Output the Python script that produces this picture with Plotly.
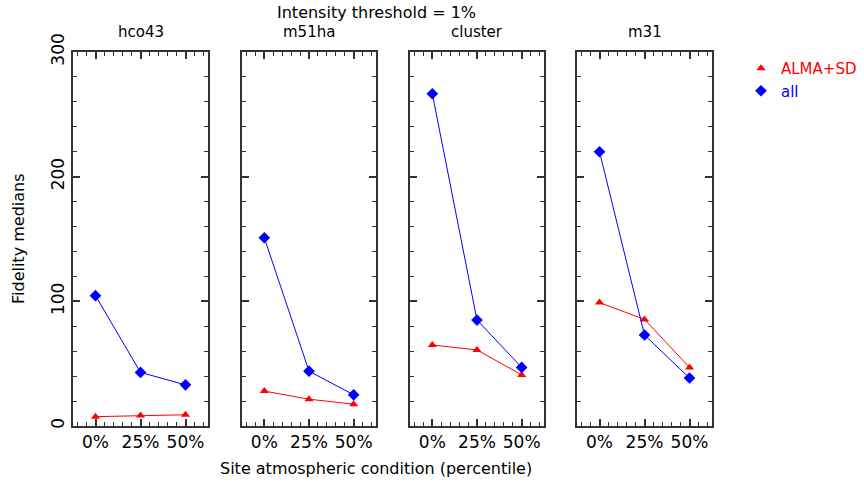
import plotly.graph_objects as go

panels = ["hco43", "m51ha", "cluster", "m31"]
conditions = [0, 25, 50]
tick_labels = ["0%", "25%", "50%"]
alma_sd = [
    [7.5, 8.5, 9.0],
    [28.0, 21.5, 17.5],
    [65.0, 61.0, 41.0],
    [99.0, 85.5, 47.0],
]
all_vals = [
    [104.5, 43.0, 33.0],
    [151.0, 44.0, 25.0],
    [266.5, 85.0, 47.0],
    [220.0, 73.0, 38.5],
]

W, H = 864, 489
PL, PR, PT, PB = 73, 712, 52, 426   # plot area in page pixels
L, T = PL, PT
R = W - PR
B = H - PB
pw = PR - PL
ph = PB - PT
px_bounds = [(73, 208), (242, 376), (410, 544), (577, 712)]
FONT = "DejaVu Sans"
AX = "#333333"
FS = 16


def px(xp):
    return (xp - PL) / pw


def py(yp):
    return (PB - yp) / ph


fig = go.Figure()
layout = dict(
    width=W, height=H,
    margin=dict(l=L, r=R, t=T, b=B, autoexpand=False),
    plot_bgcolor="white", paper_bgcolor="white",
    font=dict(family=FONT, size=FS, color="black"),
    showlegend=True,
    legend=dict(x=px(741), y=py(52), xanchor="left", yanchor="top",
                bgcolor="rgba(0,0,0,0)", font=dict(size=15), tracegroupgap=0, itemwidth=30),
)
annotations = []
for i, name in enumerate(panels):
    sfx = "" if i == 0 else str(i + 1)
    x0, x1 = px_bounds[i]
    dom = [px(x0), px(x1)]
    layout["xaxis" + sfx] = dict(
        domain=dom, range=[-12.5, 62.5], tickmode="array", tickvals=conditions,
        ticktext=tick_labels, ticks="inside", ticklen=7, tickwidth=1.5, tickcolor=AX,
        minor=dict(dtick=5, ticks="inside", ticklen=4, tickwidth=1, tickcolor=AX),
        showline=True, linecolor=AX, linewidth=2, mirror="ticks", showgrid=False,
        zeroline=False, tickfont=dict(size=FS + 1), anchor="y" + sfx, fixedrange=True,
        automargin=False,
    )
    layout["yaxis" + sfx] = dict(
        domain=[0, 1], range=[0, 300], tickmode="linear", tick0=0, dtick=100,
        ticks="inside", ticklen=7, tickwidth=1.5, tickcolor=AX,
        minor=dict(dtick=20, ticks="inside", ticklen=4, tickwidth=1, tickcolor=AX),
        showline=True, linecolor=AX, linewidth=2, mirror="ticks", showgrid=False,
        zeroline=False, showticklabels=(i == 0), tickangle=-90, tickfont=dict(size=FS + 1),
        anchor="x" + sfx, fixedrange=True, automargin=False,
    )
    fig.add_trace(go.Scatter(
        x=conditions, y=alma_sd[i], mode="lines+markers", xaxis="x" + sfx, yaxis="y" + sfx,
        line=dict(color="red", width=1), marker=dict(symbol="triangle-up", size=8, color="red"),
        showlegend=False, name="ALMA+SD"))
    fig.add_trace(go.Scatter(
        x=conditions, y=all_vals[i], mode="lines+markers", xaxis="x" + sfx, yaxis="y" + sfx,
        line=dict(color="blue", width=1), marker=dict(symbol="diamond", size=9, color="blue"),
        showlegend=False, name="all"))
    annotations.append(dict(text=name, x=(dom[0] + dom[1]) / 2, y=py(32),
                            xref="paper", yref="paper", showarrow=False,
                            xanchor="center", yanchor="middle", font=dict(size=15)))

fig.add_trace(go.Scatter(x=[None], y=[None], mode="markers",
                         marker=dict(symbol="triangle-up", size=8, color="red"),
                         name="<span style='color:red'>ALMA+SD</span>"))
fig.add_trace(go.Scatter(x=[None], y=[None], mode="markers",
                         marker=dict(symbol="diamond", size=9, color="blue"),
                         name="<span style='color:blue'>all</span>"))

annotations.append(dict(text="Intensity threshold = 1%", x=px(376), y=py(12.5),
                        xref="paper", yref="paper", showarrow=False,
                        xanchor="center", yanchor="middle", font=dict(size=FS)))
annotations.append(dict(text="Site atmospheric condition (percentile)", x=px(376),
                        y=py(468), xref="paper", yref="paper", showarrow=False,
                        xanchor="center", yanchor="middle", font=dict(size=FS)))
annotations.append(dict(text="Fidelity medians", x=px(18), y=0.5, textangle=-90,
                        xref="paper", yref="paper", showarrow=False,
                        xanchor="center", yanchor="middle", font=dict(size=FS)))
layout["annotations"] = annotations
fig.update_layout(**layout)
fig.write_html("out.html", config={"displayModeBar": False},
               post_script="document.body.style.margin='0';document.body.style.overflow='hidden';")
